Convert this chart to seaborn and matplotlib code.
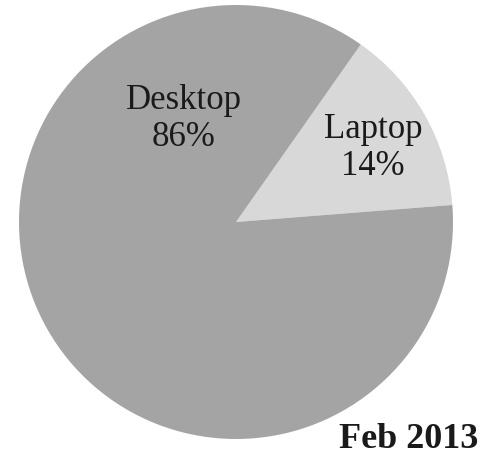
import matplotlib
matplotlib.use("Agg")
import matplotlib.pyplot as plt
import seaborn as sns

categories = ["Laptop", "Desktop"]
shares = [14, 86]
title_text = "Feb 2013"

sns.set_theme(style="white")
plt.rcParams['font.family'] = ['Liberation Serif', 'DejaVu Serif']

colors = ["#d8d8d8", "#a4a4a4"]

fig = plt.figure(figsize=(4.86, 4.58), dpi=100)
ax = fig.add_axes([0, 0, 1, 1])
ax.set_xlim(0, 486)
ax.set_ylim(0, 458)
ax.set_aspect("equal")
ax.axis("off")

ax.pie(shares, colors=colors, startangle=4.5, counterclock=True,
       center=(236, 236), radius=217, frame=True,
       wedgeprops=dict(linewidth=0))
ax.set_xlim(0, 486)
ax.set_ylim(0, 458)
ax.axis("off")

ax.text(184, 458 - 119, f"{categories[1]}\n{shares[1]}%", ha="center", va="center",
        fontsize=25, color="#1a1a1a", linespacing=1.15)
ax.text(373, 458 - 148, f"{categories[0]}\n{shares[0]}%", ha="center", va="center",
        fontsize=25, color="#1a1a1a", linespacing=1.15)
ax.text(478, 458 - 448, title_text, ha="right", va="baseline",
        fontsize=26, fontweight="bold", color="#1a1a1a")

fig.savefig("out.png", dpi=100, facecolor="white")
